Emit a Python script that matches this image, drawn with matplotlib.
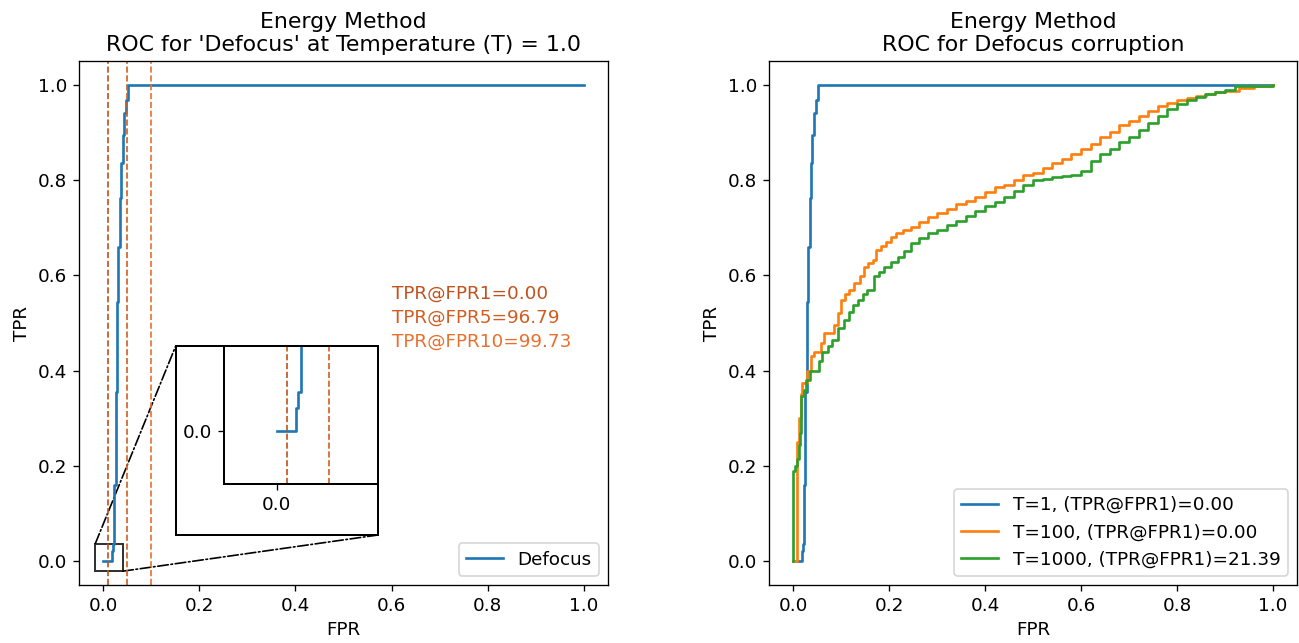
import numpy as np
import matplotlib
matplotlib.use('Agg')
import matplotlib.pyplot as plt
from matplotlib.patches import Rectangle, ConnectionPatch

plt.rcParams['font.size'] = 11

# ROC points (FPR, TPR), drawn as steps
fpr_t1 = [0.0, 0.018, 0.020, 0.023, 0.026, 0.0295, 0.0316, 0.0344, 0.038,
          0.0406, 0.0434, 0.047, 0.052, 1.0]
tpr_t1 = [0.0, 0.022, 0.037, 0.16, 0.355, 0.545, 0.66, 0.763, 0.836,
          0.894, 0.94, 0.968, 1.0, 1.0]

fpr_t100 = [0.0, 0.008, 0.012, 0.016, 0.0196, 0.030, 0.037, 0.044, 0.058, 0.065,
            0.086, 0.093, 0.0996, 0.108, 0.117, 0.128, 0.14, 0.148, 0.157, 0.166,
            0.173, 0.184, 0.194, 0.205, 0.215, 0.23, 0.246, 0.263, 0.281, 0.30,
            0.32, 0.34, 0.36, 0.38, 0.40, 0.42, 0.44, 0.46, 0.48, 0.50, 0.52,
            0.54, 0.56, 0.58, 0.60, 0.62, 0.64, 0.66, 0.68, 0.70, 0.72, 0.74,
            0.76, 0.78, 0.80, 0.82, 0.84, 0.86, 0.88, 0.90, 0.93, 0.96, 1.0]
tpr_t100 = [0.0, 0.25, 0.30, 0.35, 0.374, 0.40, 0.43, 0.44, 0.458, 0.479,
            0.496, 0.521, 0.549, 0.56, 0.570, 0.585, 0.598, 0.618, 0.625, 0.632,
            0.653, 0.662, 0.671, 0.68, 0.688, 0.695, 0.702, 0.712, 0.723, 0.73,
            0.74, 0.75, 0.757, 0.765, 0.775, 0.785, 0.79, 0.80, 0.81, 0.815, 0.825,
            0.835, 0.845, 0.855, 0.865, 0.875, 0.89, 0.90, 0.915, 0.925, 0.935, 0.945,
            0.955, 0.962, 0.968, 0.972, 0.976, 0.98, 0.984, 0.988, 0.993, 0.997, 1.0]

fpr_t1000 = [0.0, 0.0, 0.004, 0.008, 0.0125, 0.014, 0.0165, 0.0175, 0.022, 0.027,
             0.0355, 0.054, 0.061, 0.072, 0.082, 0.093, 0.107, 0.117, 0.126, 0.135,
             0.145, 0.155, 0.169, 0.18, 0.19, 0.204, 0.218, 0.232, 0.246, 0.263,
             0.281, 0.30, 0.32, 0.34, 0.36, 0.38, 0.40, 0.42, 0.44, 0.46, 0.48,
             0.50, 0.52, 0.54, 0.56, 0.58, 0.60, 0.62, 0.64, 0.66, 0.68, 0.70,
             0.72, 0.74, 0.76, 0.78, 0.80, 0.82, 0.84, 0.858, 0.88, 0.90, 0.92, 1.0]
tpr_t1000 = [0.0, 0.19, 0.20, 0.214, 0.243, 0.27, 0.31, 0.346, 0.36, 0.38,
             0.40, 0.42, 0.44, 0.452, 0.465, 0.49, 0.507, 0.524, 0.537, 0.549,
             0.56, 0.570, 0.598, 0.608, 0.618, 0.628, 0.639, 0.652, 0.667, 0.678,
             0.688, 0.695, 0.705, 0.715, 0.725, 0.735, 0.745, 0.755, 0.765, 0.778, 0.79,
             0.80, 0.803, 0.806, 0.808, 0.81, 0.82, 0.84, 0.855, 0.865, 0.88, 0.89,
             0.905, 0.92, 0.935, 0.95, 0.96, 0.968, 0.975, 0.981, 0.985, 0.99, 0.998, 1.0]

fpr_marks = [0.01, 0.05, 0.10]
mark_texts = ['TPR@FPR1=0.00', 'TPR@FPR5=96.79', 'TPR@FPR10=99.73']
mark_colors = ['#c0521d', '#d15d1f', '#e8702e']

fig = plt.figure(figsize=(1299 / 120, 643 / 120), dpi=120)

# ---- left: single ROC with inset ----
ax = fig.add_axes([0.0608, 0.0902, 0.4072, 0.8149])
ax.plot(fpr_t1, tpr_t1, drawstyle='steps-post', color='C0', linewidth=1.6, label='Defocus')
for x, c in zip(fpr_marks, mark_colors):
    ax.axvline(x, color=c, linestyle='--', linewidth=1.0)
for i, (t, c) in enumerate(zip(mark_texts, mark_colors)):
    ax.text(0.6, 0.55 - 0.05 * i, t, color=c)
ax.set_title("Energy Method\nROC for 'Defocus' at Temperature (T) = 1.0")
ax.set_xlabel('FPR')
ax.set_ylabel('TPR')
ax.legend(loc='lower right')

axins = ax.inset_axes([0.274, 0.193, 0.291, 0.263])
axins.plot(fpr_t1, tpr_t1, drawstyle='steps-post', color='C0', linewidth=1.6)
for x, c in zip(fpr_marks, mark_colors):
    axins.axvline(x, color=c, linestyle='--', linewidth=1.0)
axins.set_xlim(-0.05, 0.096)
axins.set_ylim(-0.05, 0.08)
axins.set_xticks([0.0])
axins.set_xticklabels(['0.0'])
axins.set_yticks([0.0])
axins.set_yticklabels(['0.0'])
for s in axins.spines.values():
    s.set_linewidth(1.2)

box_x, box_y, box_w, box_h = 0.183, 0.0954, 0.382, 0.361
ax.add_patch(Rectangle((box_x, box_y), box_w, box_h, transform=ax.transAxes,
                       fill=False, edgecolor='black', linewidth=1.2))
zx0, zy0, zw, zh = -0.016, -0.021, 0.057, 0.058
ax.add_patch(Rectangle((zx0, zy0), zw, zh, fill=False, edgecolor='#333333', linewidth=1.2))
for p_data, p_axes in [((zx0, zy0 + zh), (box_x, box_y + box_h)),
                       ((zx0 + zw, zy0), (box_x + box_w, box_y))]:
    con = ConnectionPatch(xyA=p_data, coordsA=ax.transData,
                          xyB=p_axes, coordsB=ax.transAxes,
                          linestyle='-.', color='black', linewidth=1.0)
    ax.add_artist(con)

# ---- right: three temperatures ----
ax2 = fig.add_axes([0.592, 0.0902, 0.4065, 0.8149])
ax2.plot(fpr_t1, tpr_t1, drawstyle='steps-post', color='C0', linewidth=1.6,
         label='T=1, (TPR@FPR1)=0.00')
ax2.plot(fpr_t100, tpr_t100, drawstyle='steps-post', color='C1', linewidth=1.6,
         label='T=100, (TPR@FPR1)=0.00')
ax2.plot(fpr_t1000, tpr_t1000, drawstyle='steps-post', color='C2', linewidth=1.6,
         label='T=1000, (TPR@FPR1)=21.39')
ax2.set_title('Energy Method\nROC for Defocus corruption')
ax2.set_xlabel('FPR')
ax2.set_ylabel('TPR')
ax2.legend(loc='lower right')

fig.savefig('out.png', dpi=120)
